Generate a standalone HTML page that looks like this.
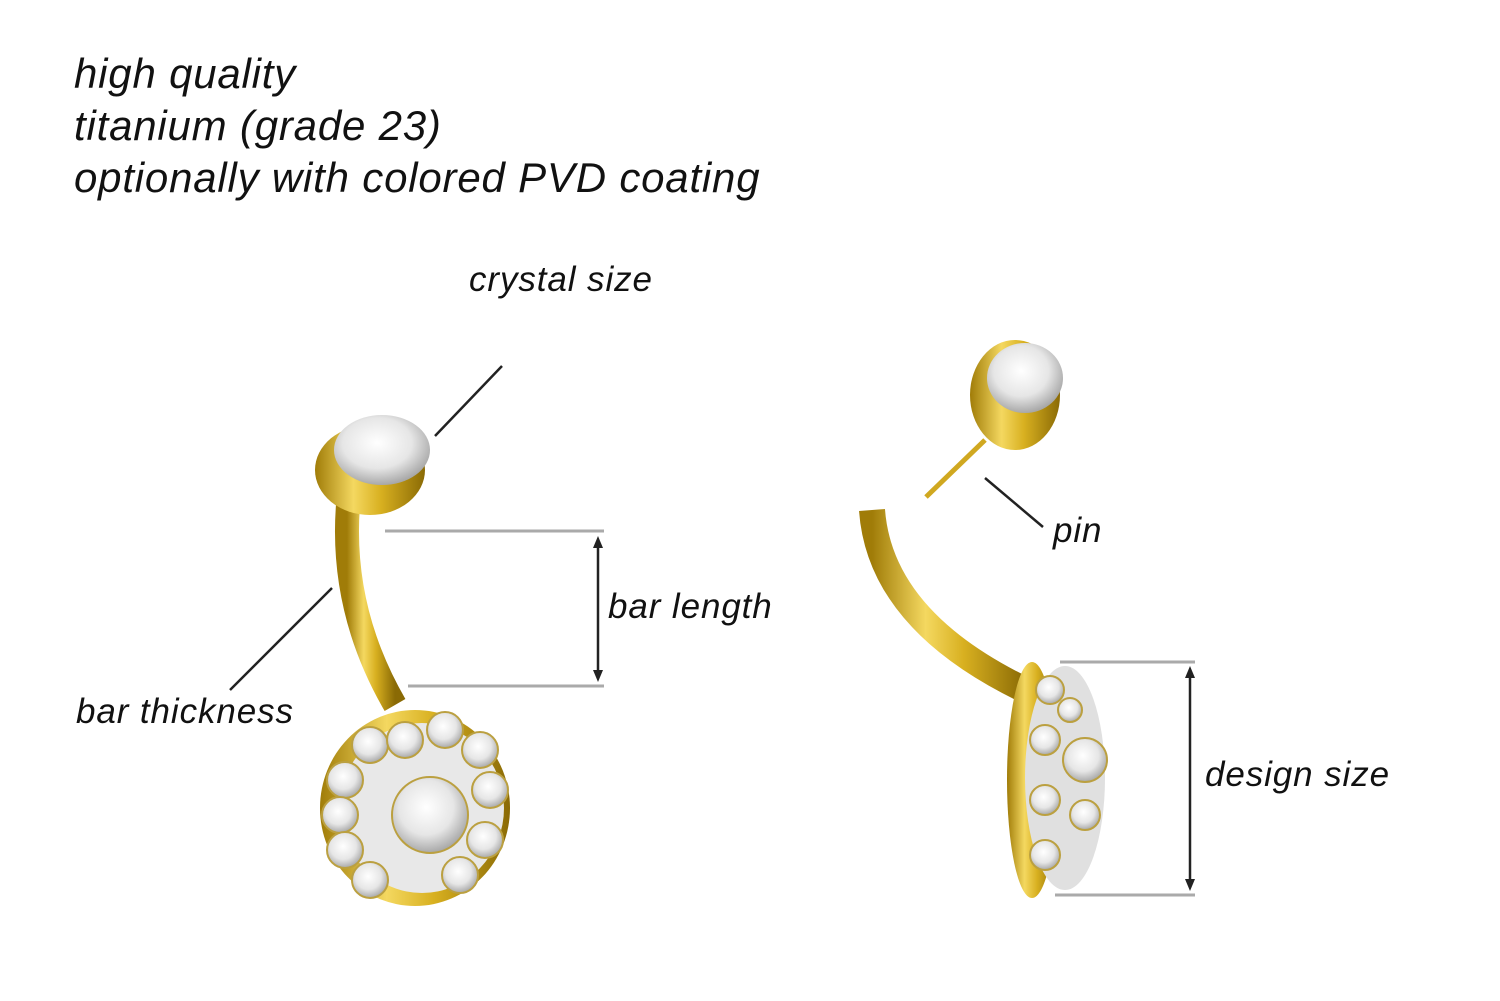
<!DOCTYPE html>
<html><head><style>
body{margin:0;background:#fff;}
svg{display:block}
text{font-family:"Liberation Sans",sans-serif;font-style:italic;fill:#111}
.h{font-size:42px;letter-spacing:0.8px}
.l{font-size:35px;letter-spacing:0.9px}
</style></head><body>
<svg width="1500" height="1001" viewBox="0 0 1500 1001">
<defs>
<linearGradient id="g" x1="0" x2="1" y1="0" y2="0">
<stop offset="0" stop-color="#a07c08"/><stop offset="0.35" stop-color="#f4d860"/><stop offset="0.6" stop-color="#d8b020"/><stop offset="1" stop-color="#8a6a05"/>
</linearGradient>
<radialGradient id="c" cx="0.45" cy="0.4" r="0.6">
<stop offset="0" stop-color="#fff"/><stop offset="0.6" stop-color="#e6e6e6"/><stop offset="1" stop-color="#a8a8a8"/>
</radialGradient>
</defs>
<text x="74" y="88" class="h">high quality</text>
<text x="74" y="140" class="h">titanium (grade 23)</text>
<text x="74" y="192" class="h">optionally with colored PVD coating</text>
<text x="469" y="291" class="l">crystal size</text>
<text x="608" y="618" class="l">bar length</text>
<text x="76" y="723" class="l">bar thickness</text>
<text x="1053" y="542" class="l">pin</text>
<text x="1205" y="786" class="l">design size</text>
<g stroke="#aaa" stroke-width="3">
<line x1="385" y1="531" x2="604" y2="531"/><line x1="408" y1="686" x2="604" y2="686"/>
<line x1="1060" y1="662" x2="1195" y2="662"/><line x1="1055" y1="895" x2="1195" y2="895"/>
</g>
<g stroke="#222" stroke-width="2.5">
<line x1="598" y1="542" x2="598" y2="676"/><line x1="1190" y1="672" x2="1190" y2="885"/>
<line x1="435" y1="436" x2="502" y2="366"/><line x1="230" y1="690" x2="332" y2="588"/>
<line x1="1043" y1="527" x2="985" y2="478"/>
</g>
<g fill="#222">
<polygon points="598,536 593,548 603,548"/><polygon points="598,682 593,670 603,670"/>
<polygon points="1190,666 1185,678 1195,678"/><polygon points="1190,891 1185,879 1195,879"/>
</g>
<path d="M348,505 Q340,610 395,705" stroke="url(#g)" stroke-width="24" fill="none"/>
<ellipse cx="370" cy="470" rx="55" ry="45" fill="url(#g)"/>
<ellipse cx="382" cy="450" rx="48" ry="35" fill="url(#c)"/>
<ellipse cx="415" cy="808" rx="95" ry="98" fill="url(#g)"/>
<ellipse cx="422" cy="808" rx="82" ry="85" fill="#e8e8e8"/>
<g fill="url(#c)" stroke="#bba040" stroke-width="2">
<circle cx="370" cy="745" r="18"/><circle cx="405" cy="740" r="18"/><circle cx="445" cy="730" r="18"/><circle cx="480" cy="750" r="18"/>
<circle cx="345" cy="780" r="18"/><circle cx="340" cy="815" r="18"/><circle cx="345" cy="850" r="18"/><circle cx="370" cy="880" r="18"/>
<circle cx="490" cy="790" r="18"/><circle cx="485" cy="840" r="18"/><circle cx="460" cy="875" r="18"/>
<circle cx="430" cy="815" r="38"/>
</g>
<path d="M872,510 Q880,620 1025,690" stroke="url(#g)" stroke-width="26" fill="none"/>
<line x1="985" y1="440" x2="926" y2="497" stroke="#d0a820" stroke-width="5"/>
<ellipse cx="1015" cy="395" rx="45" ry="55" fill="url(#g)"/>
<ellipse cx="1025" cy="378" rx="38" ry="35" fill="url(#c)"/>
<ellipse cx="1032" cy="780" rx="25" ry="118" fill="url(#g)"/>
<ellipse cx="1065" cy="778" rx="40" ry="112" fill="#e0e0e0"/>
<g fill="url(#c)" stroke="#bba040" stroke-width="2">
<circle cx="1050" cy="690" r="14"/><circle cx="1045" cy="740" r="15"/><circle cx="1045" cy="800" r="15"/><circle cx="1045" cy="855" r="15"/>
<circle cx="1085" cy="760" r="22"/><circle cx="1085" cy="815" r="15"/><circle cx="1070" cy="710" r="12"/>
</g>
</svg>
</body></html>
